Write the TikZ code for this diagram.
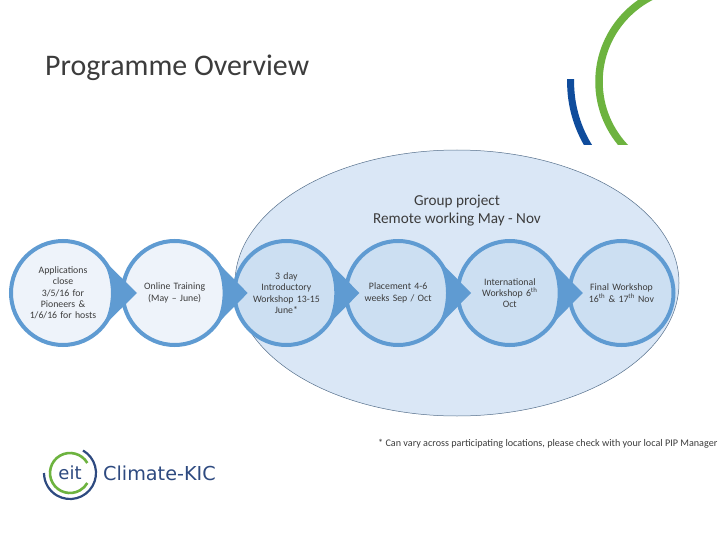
\documentclass[tikz,border=0pt]{standalone}
\usepackage{fontspec}
\setmainfont{Carlito}
\newfontfamily\logofont{DejaVu Sans}
\usetikzlibrary{positioning,shapes.geometric,calc}
\definecolor{ringBlue}{HTML}{5F9BD2}
\definecolor{paleBlue}{HTML}{EEF3FA}
\definecolor{midBlue}{HTML}{CCDFF2}
\definecolor{bandBlue}{HTML}{DAE7F6}
\definecolor{edgeBlue}{HTML}{56708C}
\definecolor{textGrey}{HTML}{3C3C3C}
\definecolor{logoGreen}{HTML}{6DB33F}
\definecolor{logoNavy}{HTML}{0F4C9C}
\definecolor{wordNavy}{HTML}{2E4A80}
\tikzset{
  stage/.style={circle, draw=ringBlue, line width=4pt, fill=paleBlue, minimum size=104pt,
                inner sep=0pt, text width=80pt, align=center, text=textGrey,
                font=\fontsize{9.8pt}{11.3pt}\selectfont},
  inner/.style={stage, fill=midBlue},
  chevron/.style={fill=ringBlue, draw=none},
  heading/.style={text=textGrey, align=center, font=\fontsize{15.2pt}{18pt}\selectfont}
}
\newcommand{\chevronfrom}[2]{%
  \fill[chevron] ($(#1)+(42:52pt)$) -- ([xshift=#2]#1.east) -- ($(#1)+(-42:52pt)$)
    .. controls ($(#1)+(51pt,-14pt)$) and ($(#1)+(51pt,14pt)$) .. ($(#1)+(42:52pt)$) -- cycle;}
\begin{document}
\begin{tikzpicture}[node distance=3.7pt]
\useasboundingbox (0pt,0pt) rectangle (720pt,-540pt);
\fill[white] (0pt,0pt) rectangle (720pt,-540pt);

% decoration top right
\begin{scope}
\clip (560pt,0pt) rectangle (720pt,-145pt);
\draw[logoGreen, line width=7.5pt] (694.6pt,-81.7pt) circle (95.6pt);
\clip (560pt,-80pt) rectangle (720pt,-145pt);
\draw[logoNavy, line width=7pt] (694.6pt,-81.7pt) circle (124pt);
\end{scope}

\node[anchor=west, inner sep=0pt, text=textGrey, font=\fontsize{29.9pt}{32pt}\selectfont] (title) at (45pt,-68pt) {Programme Overview};

\node[ellipse, draw=edgeBlue, line width=0.5pt, fill=bandBlue, minimum width=444pt, minimum height=266pt, inner sep=0pt] (group) at (457pt,-283pt) {};
\node[heading] (project) at (457pt,-211pt) {Group project\\Remote working May - Nov};

\node[stage] (apply) at (63pt,-293pt) {Applications\\close\\3/5/16 for\\Pioneers \&\\1/6/16 for hosts};
\node[stage, right=of apply] (online) {Online Training\\(May -- June)};
\node[inner, right=of online] (intro) {3 day\\Introductory\\Workshop 13-15\\June*};
\node[inner, right=of intro] (placement) {Placement 4-6\\weeks Sep / Oct};
\node[inner, right=of placement] (intl) {International\\Workshop 6\textsuperscript{th}\\Oct};
\node[inner, right=of intl] (final) {Final Workshop\\16\textsuperscript{th} \& 17\textsuperscript{th} Nov};

\chevronfrom{apply}{20pt}
\chevronfrom{online}{19pt}
\chevronfrom{intro}{19pt}
\chevronfrom{placement}{19pt}
\chevronfrom{intl}{19pt}

\node[anchor=west, inner sep=0pt, text=textGrey, font=\fontsize{10.15pt}{11pt}\selectfont] (note) at (378pt,-444pt) {* Can vary across participating locations, please check with your local PIP Manager};

% logo
\coordinate (mark) at (70pt,-473pt);
\draw[logoGreen, line width=2.6pt] ([shift={(30:20pt)}]mark) arc[start angle=30, end angle=330, radius=20pt];
\draw[wordNavy, line width=2.2pt] ([shift={(60:26pt)}]mark) arc[start angle=60, end angle=-180, radius=26pt];
\node[inner sep=0pt, text=wordNavy, font=\logofont\fontsize{18pt}{20pt}\selectfont] (eit) at (70pt,-473pt) {eit};
\node[anchor=west, inner sep=0pt, text=wordNavy, font=\logofont\fontsize{19.2pt}{20pt}\selectfont] (kic) at (103pt,-473pt) {Climate-KIC};
\end{tikzpicture}
\end{document}
